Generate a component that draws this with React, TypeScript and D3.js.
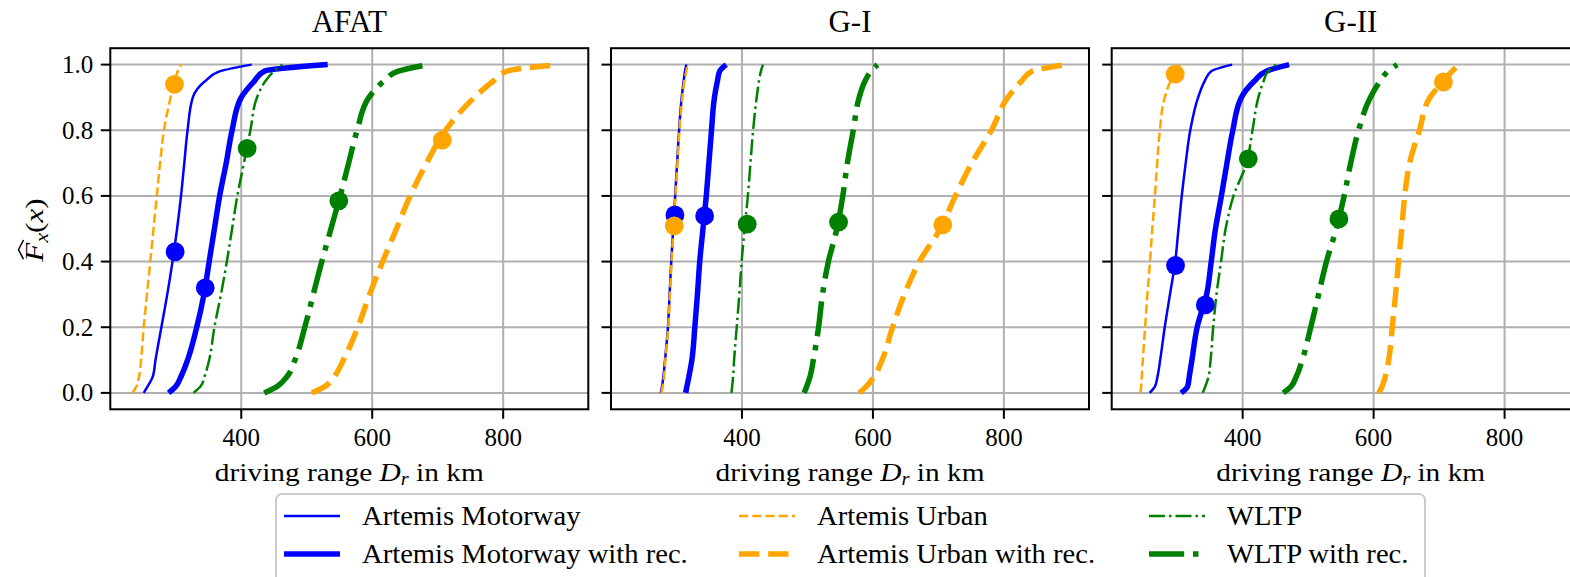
import React, { useEffect, useRef } from 'react';
import * as d3 from 'd3';

// cumulative probability levels shared by every curve
const levels = [0, 0.02, 0.05, 0.1, 0.2, 0.3, 0.4, 0.5, 0.6, 0.7, 0.8, 0.9, 0.95, 0.98, 1];

const panelTitles = ['AFAT', 'G-I', 'G-II'];
const seriesNames = [
  'Artemis Motorway',
  'Artemis Motorway with rec.',
  'Artemis Urban',
  'Artemis Urban with rec.',
  'WLTP',
  'WLTP with rec.',
];

// driving range (km) reached at each level -- AFAT
const afatMotorway = [251, 257, 265, 269, 278, 287, 295, 302, 308, 313, 318, 326, 345, 368, 416];
const afatMotorwayRec = [289, 300, 308, 318, 332, 343, 351, 359, 367, 377, 386, 400, 420, 435, 532];
const afatUrban = [234, 240, 244, 247, 251, 256, 261, 266, 271, 276, 282, 292, 298, 303, 308];
const afatUrbanRec = [508, 528, 542, 556, 578, 596, 616, 637, 658, 683, 712, 756, 785, 806, 884];
const afatWltp = [327, 338, 344, 351, 359, 369, 378, 386, 394, 404, 414, 424, 437, 450, 463];
const afatWltpRec = [435, 455, 470, 482, 497, 510, 523, 537, 551, 564, 577, 595, 618, 640, 686];

// G-I
const giMotorway = [276, 278, 280, 282.5, 287, 289.5, 292, 295, 298, 301, 304, 308, 311, 313, 315];
const giMotorwayRec = [314, 316, 319, 323.5, 328, 332, 335.5, 340.5, 345.5, 349.5, 353.5, 358, 362.5, 366, 376];
const giUrban = [277, 279, 281, 283, 287.5, 290, 292.5, 295.5, 298.5, 301.5, 304.5, 309, 312, 315, 317];
const giUrbanRec = [579, 590, 602, 614, 630, 648, 671, 703, 726, 751, 781, 806, 827, 843, 894];
const giWltp = [384, 385, 386.5, 388, 392, 396, 399.5, 404, 409, 413, 417, 422.5, 426, 429, 432];
const giWltpRec = [495, 499, 504, 509, 517, 523, 532, 545, 554, 561, 570, 579, 588, 597, 607];

// G-II
const g2Motorway = [258, 266, 270, 274, 281, 289, 297, 302, 307, 313, 320, 332, 342, 352, 384];
const g2MotorwayRec = [306, 316, 318.5, 322.5, 330.5, 345, 352, 358.5, 367.5, 376, 385, 398, 418, 436, 471];
const g2Urban = [244, 245, 246, 247.5, 251, 254.5, 258.5, 262, 266, 269.5, 273.5, 281, 290, 299, 304];
const g2UrbanRec = [608, 613, 618, 623, 628.5, 633.5, 638, 643, 647.5, 655, 670, 686, 707, 720, 730];
const g2Wltp = [339, 343, 348, 351, 355, 360, 367, 374, 386, 406, 415, 424, 432, 439, 451];
const g2WltpRec = [462, 474, 482, 491, 504, 516, 528, 543, 555, 565, 577, 595, 610, 622, 636];

// marked points (same series order)
const afatDotX = [299, 345, 298, 707, 409, 549];
const afatDotF = [0.43, 0.32, 0.94, 0.77, 0.745, 0.585];
const giDotX = [297.6, 343, 296.6, 706.7, 408, 547.5];
const giDotF = [0.542, 0.539, 0.509, 0.512, 0.514, 0.52];
const g2DotX = [297.5, 343, 297, 706.6, 408.6, 547];
const g2DotF = [0.388, 0.268, 0.971, 0.947, 0.713, 0.53];

const xTicks = [400, 600, 800];
const yTicks = [0, 0.2, 0.4, 0.6, 0.8, 1.0];

const panelCurves = [
  [afatMotorway, afatMotorwayRec, afatUrban, afatUrbanRec, afatWltp, afatWltpRec],
  [giMotorway, giMotorwayRec, giUrban, giUrbanRec, giWltp, giWltpRec],
  [g2Motorway, g2MotorwayRec, g2Urban, g2UrbanRec, g2Wltp, g2WltpRec],
];
const panelDots = [
  [afatDotX, afatDotF],
  [giDotX, giDotF],
  [g2DotX, g2DotF],
];

const THIN = 2.5;
const THICK = 5.5;
const styles = [
  { color: '#0000ff', width: THIN, dash: null },
  { color: '#0000ff', width: THICK, dash: null },
  { color: '#ffa500', width: THIN, dash: [3.7, 1.6] },
  { color: '#ffa500', width: THICK, dash: [3.7, 1.6] },
  { color: '#008000', width: THIN, dash: [6.4, 1.6, 1, 1.6] },
  { color: '#008000', width: THICK, dash: [6.4, 1.6, 1, 1.6] },
];

const FONT = 'Liberation Serif';

const App = () => {
  const svgRef = useRef<SVGSVGElement>(null);

  useEffect(() => {
    const svg = d3.select(svgRef.current);
    svg.selectAll('*').remove();

    const panelX = [110.3, 611, 1111.7];
    const panelW = 478;
    const top = 48.2;
    const bottom = 409.3;

    const y = d3.scaleLinear().domain([-0.05, 1.05]).range([bottom, top]);

    panelX.forEach((px, p) => {
      const x = d3.scaleLinear().domain([200, 930]).range([px, px + panelW]);
      const g = svg.append('g');

      const clipId = `clip-${p}`;
      g.append('clipPath').attr('id', clipId)
        .append('rect')
        .attr('x', px).attr('y', top)
        .attr('width', panelW).attr('height', bottom - top);

      // grid
      g.selectAll('.vgrid').data(xTicks).enter().append('line')
        .attr('x1', d => x(d)).attr('x2', d => x(d))
        .attr('y1', top).attr('y2', bottom)
        .attr('stroke', '#b0b0b0').attr('stroke-width', 2);
      g.selectAll('.hgrid').data(yTicks).enter().append('line')
        .attr('x1', px).attr('x2', px + panelW)
        .attr('y1', d => y(d)).attr('y2', d => y(d))
        .attr('stroke', '#b0b0b0').attr('stroke-width', 2);

      // curves
      const line = d3.line<number>()
        .x(d => x(d))
        .y((d, i) => y(levels[i]))
        .curve(d3.curveMonotoneY);

      const plot = g.append('g').attr('clip-path', `url(#${clipId})`);
      panelCurves[p].forEach((vals, s) => {
        const st = styles[s];
        plot.append('path')
          .datum(vals)
          .attr('fill', 'none')
          .attr('stroke', st.color)
          .attr('stroke-width', st.width)
          .attr('stroke-linejoin', 'round')
          .attr('stroke-dasharray', st.dash ? st.dash.map(v => v * st.width).join(',') : null)
          .attr('d', line);
      });

      // marked points
      const [dx, df] = panelDots[p];
      plot.selectAll('.dot').data(dx).enter().append('circle')
        .attr('cx', d => x(d))
        .attr('cy', (d, i) => y(df[i]))
        .attr('r', 9.4)
        .attr('fill', (d, i) => styles[i].color);

      // frame
      g.append('rect')
        .attr('x', px).attr('y', top)
        .attr('width', panelW).attr('height', bottom - top)
        .attr('fill', 'none').attr('stroke', '#000').attr('stroke-width', 2);

      // x ticks
      g.selectAll('.xt').data(xTicks).enter().append('line')
        .attr('x1', d => x(d)).attr('x2', d => x(d))
        .attr('y1', bottom).attr('y2', bottom + 9.5)
        .attr('stroke', '#000').attr('stroke-width', 2);
      g.selectAll('.xl').data(xTicks).enter().append('text')
        .attr('x', d => x(d)).attr('y', 446)
        .attr('text-anchor', 'middle')
        .attr('font-family', FONT).attr('font-size', 25)
        .text(d => d);

      // y ticks
      g.selectAll('.yt').data(yTicks).enter().append('line')
        .attr('x1', px - 9.5).attr('x2', px)
        .attr('y1', d => y(d)).attr('y2', d => y(d))
        .attr('stroke', '#000').attr('stroke-width', 2);
      if (p === 0) {
        g.selectAll('.yl').data(yTicks).enter().append('text')
          .attr('x', px - 17).attr('y', d => y(d))
          .attr('dy', '0.34em')
          .attr('text-anchor', 'end')
          .attr('font-family', FONT).attr('font-size', 25)
          .text(d => d.toFixed(1));
      }

      // title
      g.append('text')
        .attr('x', px + panelW / 2).attr('y', 32)
        .attr('text-anchor', 'middle')
        .attr('font-family', FONT).attr('font-size', 31)
        .text(panelTitles[p]);

      // x label (stretched a little to the width of the original's font)
      const xl = g.append('g')
        .attr('transform', `translate(${px + panelW / 2},481) scale(1.13,1)`)
        .append('text')
        .attr('text-anchor', 'middle')
        .attr('font-family', FONT).attr('font-size', 26);
      xl.append('tspan').text('driving range ');
      xl.append('tspan').attr('font-style', 'italic').text('D');
      xl.append('tspan').attr('font-style', 'italic').attr('font-size', 18).attr('dy', 4).text('r');
      xl.append('tspan').attr('dy', -4).text(' in km');
    });

    // y label: F-hat_x(x)
    const yg = svg.append('g').attr('transform', 'translate(43,230) rotate(-90) scale(1.2,1)');
    const yt = yg.append('text')
      .attr('x', 0).attr('y', 0)
      .attr('text-anchor', 'middle')
      .attr('font-family', FONT).attr('font-size', 26);
    yt.append('tspan').attr('font-style', 'italic').text('F');
    yt.append('tspan').attr('font-style', 'italic').attr('font-size', 18).attr('dy', 5).text('x');
    yt.append('tspan').attr('dy', -5).text('(');
    yt.append('tspan').attr('font-style', 'italic').text('x');
    yt.append('tspan').text(')');
    const tw = (yt.node() as SVGTextElement).getComputedTextLength();
    const fx = -tw / 2;
    yg.append('path')
      .attr('d', `M${fx + 2},-19.5 L${fx + 10},-24.5 L${fx + 18},-19.5`)
      .attr('fill', 'none').attr('stroke', '#000').attr('stroke-width', 1.4);

    // legend
    const lg = svg.append('g');
    lg.append('rect')
      .attr('x', 276).attr('y', 494)
      .attr('width', 1149).attr('height', 110)
      .attr('rx', 6)
      .attr('fill', '#fff').attr('fill-opacity', 0.8)
      .attr('stroke', '#cccccc').attr('stroke-width', 2);
    const colX = [284, 739, 1149];
    const rowY = [516, 554];
    seriesNames.forEach((name, i) => {
      const cx = colX[Math.floor(i / 2)];
      const cy = rowY[i % 2];
      const st = styles[i];
      lg.append('line')
        .attr('x1', cx).attr('x2', cx + 56)
        .attr('y1', cy).attr('y2', cy)
        .attr('stroke', st.color)
        .attr('stroke-width', st.width)
        .attr('stroke-dasharray', st.dash ? st.dash.map(v => v * st.width).join(',') : null);
      lg.append('g')
        .attr('transform', `translate(${cx + 78},${cy + 9}) scale(1.06,1)`)
        .append('text')
        .attr('font-family', FONT).attr('font-size', 27)
        .text(name);
    });
  }, []);

  return (
    <svg
      ref={svgRef}
      width={1570}
      height={577}
      style={{ position: 'absolute', left: 0, top: 0, background: '#fff', overflow: 'hidden' }}
    />
  );
};

export default App;
